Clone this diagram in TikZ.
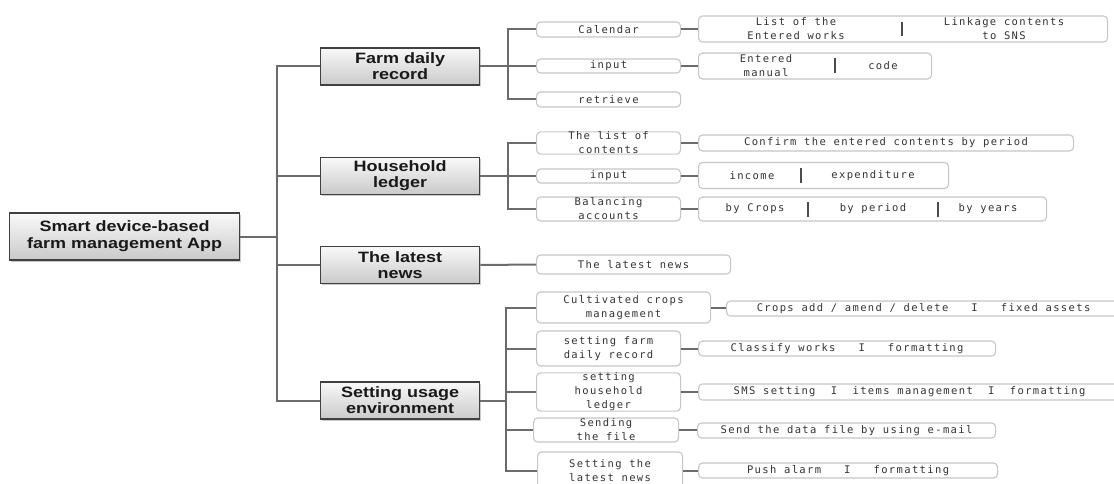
\documentclass[tikz,border=0pt]{standalone}
\usepackage{fontspec}
\setmainfont{Liberation Sans}
\newfontfamily\catfont[FakeStretch=1.2]{Liberation Sans}
\newfontfamily\itemfont[LetterSpace=13]{DejaVu Sans Mono}
\usetikzlibrary{shadows}

\tikzset{
  cat/.style={draw=black!75, line width=1.4pt, top color=gray!5, bottom color=gray!42,
    drop shadow={shadow xshift=1.5pt, shadow yshift=-1.5pt, opacity=0.35, fill=black!60},
    inner sep=0pt, align=center, anchor=west, text=black!90,
    font=\catfont\bfseries\fontsize{15}{16}\selectfont, minimum width=159pt, minimum height=37pt},
  item/.style={draw=gray!45, line width=1.1pt, fill=white, rounded corners=4pt,
    inner sep=0pt, align=center, anchor=west, text=black!80,
    font=\itemfont\fontsize{10.5}{14}\selectfont},
  part/.style={inner sep=0pt, align=center, text=black!80, font=\itemfont\fontsize{10.5}{14}\selectfont},
  link/.style={draw=black!58, line width=2pt},
  bar/.style={draw=black!70, line width=1.6pt}
}

\begin{document}
\begin{tikzpicture}[x=1pt,y=-1pt]
\useasboundingbox (0,0) rectangle (1114,484);
\clip (0,0) rectangle (1114,484);

% root and the four menus
\node[cat, minimum width=230pt, minimum height=47pt, font=\catfont\bfseries\fontsize{15}{17}\selectfont] (app) at (9,236.5) {Smart device-based\\farm management App};
\node[cat] (farm) at (320,66.5) {Farm daily\\record};
\node[cat] (ledger) at (320,176) {Household\\ledger};
\node[cat] (news) at (320,265) {The latest\\news};
\node[cat] (setup) at (320,400.5) {Setting usage\\environment};

\draw[link] (app.east) -- ++(37,0) coordinate (trunk);
\foreach \n in {farm,ledger,news,setup}
  \draw[link] (trunk) |- (\n.west);

% farm daily record
\node[item, minimum width=144pt, minimum height=15pt] (cal) at (536,29.5) {Calendar};
\node[item, minimum width=144pt, minimum height=14pt] (fin) at (536,66) {input};
\node[item, minimum width=144pt, minimum height=15pt] (ret) at (536,99.5) {retrieve};
\draw[link] (farm.east) -- ++(28,0) coordinate (f2);
\foreach \n in {cal,fin,ret}
  \draw[link] (f2) |- (\n.west);

\node[item, minimum width=409pt, minimum height=26pt] (calx) at (698,29) {};
\node[part] (calxa) at (796,29) {List of the\\Entered works};
\node[part] (calxb) at (1004,29) {Linkage contents\\to SNS};
\draw[bar] (902,22) -- ++(0,14);

\node[item, minimum width=233pt, minimum height=26pt] (finx) at (698,66) {};
\node[part] (finxa) at (766,66) {Entered\\manual};
\node[part] (finxb) at (883,66) {code};
\draw[bar] (835,58) -- ++(0,15);

% household ledger
\node[item, minimum width=144pt, minimum height=22pt] (lst) at (536,143) {The list of\\contents};
\node[item, minimum width=144pt, minimum height=14pt] (hin) at (536,176) {input};
\node[item, minimum width=144pt, minimum height=24pt] (bal) at (536,209) {Balancing\\accounts};
\draw[link] (ledger.east) -- ++(28,0) coordinate (h2);
\foreach \n in {lst,hin,bal}
  \draw[link] (h2) |- (\n.west);

\node[item, minimum width=375pt, minimum height=16pt] (lstx) at (698,143) {Confirm the entered contents by period};

\node[item, minimum width=250pt, minimum height=26pt] (hinx) at (698,175.5) {};
\node[part] (hinxa) at (752,175.5) {income};
\node[part] (hinxb) at (873,175.5) {expenditure};
\draw[bar] (801,168) -- ++(0,15);

\node[item, minimum width=348pt, minimum height=24pt] (balx) at (698,209) {};
\node[part] (balxa) at (755,209) {by Crops};
\node[part] (balxb) at (873,209) {by period};
\node[part] (balxc) at (988,209) {by years};
\draw[bar] (808,202) -- ++(0,15);
\draw[bar] (938,202) -- ++(0,15);

% the latest news
\node[item, minimum width=194pt, minimum height=19pt] (newsb) at (536,264.5) {The latest news};
\draw[link] (news.east) -- (newsb.west);

% setting usage environment
\node[item, minimum width=174pt, minimum height=31pt] (cult) at (536,307.5) {Cultivated crops\\management};
\node[item, minimum width=144pt, minimum height=35pt] (sfarm) at (536,348.5) {setting farm\\daily record};
\node[item, minimum width=144pt, minimum height=38pt] (shh) at (536,392) {setting\\household\\ledger};
\node[item, minimum width=145pt, minimum height=24pt] (send) at (533,430) {Sending\\the file};
\node[item, minimum width=145pt, minimum height=38pt] (snews) at (537,471) {Setting the\\latest news};
\draw[link] (setup.east) -- ++(26,0) coordinate (s2);
\foreach \n in {cult,sfarm,shh,send,snews}
  \draw[link] (s2) |- (\n.west);

\node[item, minimum width=394pt, minimum height=15pt] (cultx) at (726,308.5) {Crops add / amend / delete\ \ \ I\ \ \ fixed assets};
\node[item, minimum width=297pt, minimum height=15pt] (sfarmx) at (698,348.5) {Classify works\ \ \ I\ \ \ formatting};
\node[item, minimum width=422pt, minimum height=16pt] (shhx) at (698,392) {SMS setting\ \ I\ \ items management\ \ I\ \ formatting};
\node[item, minimum width=298pt, minimum height=15pt] (sendx) at (697,430.5) {Send the data file by using e-mail};
\node[item, minimum width=299pt, minimum height=15pt] (snewsx) at (698,470.5) {Push alarm\ \ \ I\ \ \ formatting};

\foreach \a/\b in {cal/calx,fin/finx,lst/lstx,hin/hinx,bal/balx,cult/cultx,sfarm/sfarmx,shh/shhx,send/sendx,snews/snewsx}
  \draw[link] (\a.east) -- (\a.east -| \b.west);

\end{tikzpicture}
\end{document}
